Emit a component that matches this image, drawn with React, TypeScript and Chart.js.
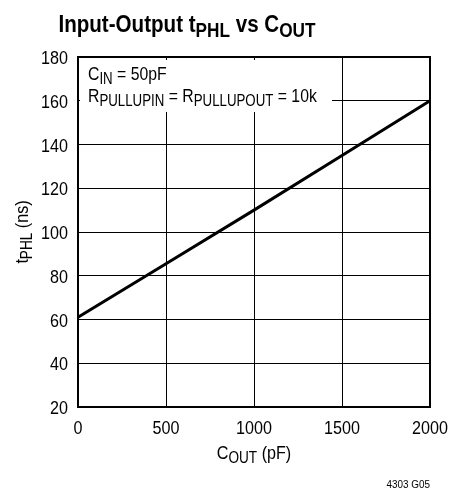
import React, { useEffect, useRef } from "react";
import { Chart, registerables } from "chart.js";

Chart.register(...registerables);

const coutPF = [0, 500, 1000, 1500, 2000];
const tphlNs = [61, 85.5, 110, 135, 160];
const xTickValues = [0, 500, 1000, 1500, 2000];
const yTickValues = [20, 40, 60, 80, 100, 120, 140, 160, 180];

const FONT = '"Liberation Sans", Arial, sans-serif';
const SX = 0.85;

type Part = { t: string; sub?: boolean };

function drawRich(
  ctx: CanvasRenderingContext2D,
  parts: Part[],
  x: number,
  y: number,
  align: "left" | "center" | "right",
  size: number,
  subSize: number,
  subDrop: number,
  bold = false,
  sx = SX
) {
  const w = bold ? "bold " : "";
  let total = 0;
  const widths = parts.map((p) => {
    ctx.font = `${w}${p.sub ? subSize : size}px ${FONT}`;
    const m = ctx.measureText(p.t).width;
    total += m;
    return m;
  });
  const start = align === "left" ? 0 : align === "center" ? -total / 2 : -total;
  ctx.save();
  ctx.translate(x, y);
  ctx.scale(sx, 1);
  ctx.textAlign = "left";
  ctx.textBaseline = "alphabetic";
  let cx = start;
  parts.forEach((p, i) => {
    ctx.font = `${w}${p.sub ? subSize : size}px ${FONT}`;
    ctx.fillText(p.t, cx, p.sub ? subDrop : 0);
    cx += widths[i];
  });
  ctx.restore();
}

const decorPlugin = {
  id: "decor",
  beforeDatasetsDraw(chart: any) {
    const { ctx, chartArea } = chart;
    ctx.save();
    ctx.fillStyle = "#fff";
    ctx.fillRect(chartArea.left + 2, chartArea.top + 3, 252, 52);
    ctx.fillStyle = "#000";
    drawRich(ctx, [{ t: "C" }, { t: "IN", sub: true }, { t: " = 50pF" }], chartArea.left + 10, chartArea.top + 23, "left", 19, 16, 4, false, 0.83);
    drawRich(
      ctx,
      [{ t: "R" }, { t: "PULLUPIN", sub: true }, { t: " = R" }, { t: "PULLUPOUT", sub: true }, { t: " = 10k" }],
      chartArea.left + 10,
      chartArea.top + 45,
      "left",
      19,
      16,
      4,
      false,
      0.83
    );
    ctx.restore();
  },
  afterDraw(chart: any) {
    const { ctx, chartArea } = chart;
    const xs = chart.scales.x;
    const ys = chart.scales.y;
    ctx.save();
    ctx.strokeStyle = "#000";
    ctx.lineWidth = 2;
    ctx.strokeRect(chartArea.left, chartArea.top, chartArea.right - chartArea.left, chartArea.bottom - chartArea.top);
    ctx.fillStyle = "#000";
    ys.ticks.forEach((t: any) => {
      const py = ys.getPixelForValue(t.value);
      drawRich(ctx, [{ t: String(t.value) }], chartArea.left - 10, py + 7, "right", 19, 19, 0);
    });
    xs.ticks.forEach((t: any) => {
      const px = xs.getPixelForValue(t.value);
      drawRich(ctx, [{ t: String(t.value) }], px, chartArea.bottom + 27, "center", 19, 19, 0);
    });
    const cxm = (chartArea.left + chartArea.right) / 2;
    const cym = (chartArea.top + chartArea.bottom) / 2;
    drawRich(
      ctx,
      [{ t: "Input-Output t" }, { t: "PHL", sub: true }, { t: " vs C" }, { t: "OUT", sub: true }],
      187,
      32,
      "center",
      24.5,
      20.5,
      5,
      true,
      0.84
    );
    drawRich(ctx, [{ t: "C" }, { t: "OUT", sub: true }, { t: " (pF)" }], cxm, 459, "center", 19, 16, 4);
    ctx.save();
    ctx.translate(28, cym);
    ctx.rotate(-Math.PI / 2);
    drawRich(ctx, [{ t: "t" }, { t: "PHL", sub: true }, { t: " (ns)" }], 0, 0, "center", 19, 16, 4);
    ctx.restore();
    drawRich(ctx, [{ t: "4303 G05" }], chartArea.right, 488, "right", 11, 11, 0, false, 0.9);
    ctx.restore();
  },
};

export default function App() {
  const ref = useRef<HTMLCanvasElement | null>(null);
  useEffect(() => {
    if (!ref.current) return;
    const chart = new Chart(ref.current, {
      type: "scatter",
      data: {
        datasets: [
          {
            data: coutPF.map((x, i) => ({ x, y: tphlNs[i] })),
            showLine: true,
            borderColor: "#000",
            borderWidth: 3,
            pointRadius: 0,
            fill: false,
          },
        ],
      },
      options: {
        animation: false,
        responsive: true,
        maintainAspectRatio: false,
        layout: { padding: { left: 0, top: 57, right: 23, bottom: 49 } },
        plugins: { legend: { display: false }, tooltip: { enabled: false }, title: { display: false } },
        scales: {
          x: {
            type: "linear",
            min: 0,
            max: 2000,
            afterBuildTicks: (s: any) => {
              s.ticks = xTickValues.map((v) => ({ value: v }));
            },
            afterFit: (s: any) => {
              s.height = 40;
            },
            ticks: { display: false },
            grid: { color: "#000", lineWidth: 1, drawTicks: false },
            border: { color: "#000", width: 2 },
          },
          y: {
            type: "linear",
            min: 20,
            max: 180,
            afterBuildTicks: (s: any) => {
              s.ticks = yTickValues.map((v) => ({ value: v }));
            },
            afterFit: (s: any) => {
              s.width = 78;
            },
            ticks: { display: false },
            grid: { color: "#000", lineWidth: 1, drawTicks: false },
            border: { color: "#000", width: 2 },
          },
        },
      },
      plugins: [decorPlugin],
    });
    return () => chart.destroy();
  }, []);
  return (
    <div style={{ position: "absolute", left: 0, top: 0, width: 453, height: 496, background: "#fff" }}>
      <canvas ref={ref} />
    </div>
  );
}
